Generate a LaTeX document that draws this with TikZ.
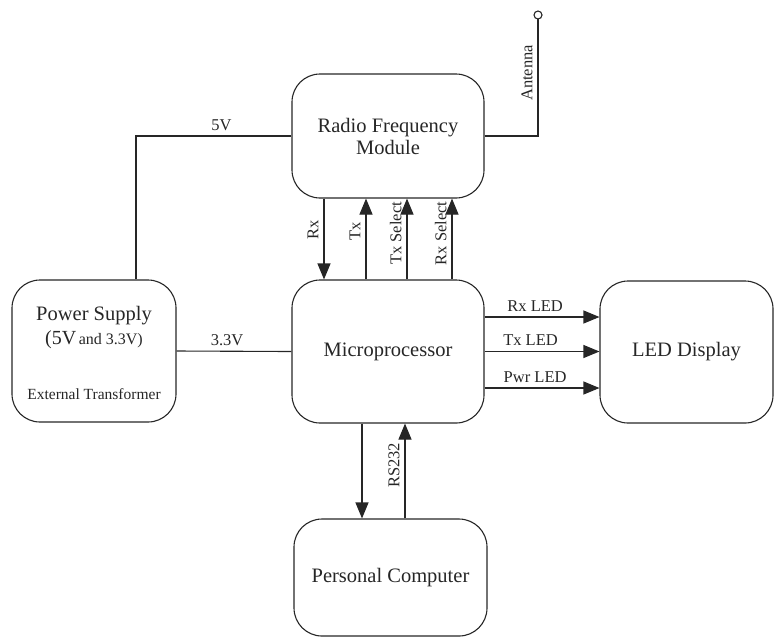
\documentclass[tikz,border=0pt]{standalone}
\usepackage{fontspec}
\setmainfont{Liberation Serif}
\usetikzlibrary{arrows.meta,calc}

\begin{document}
\begin{tikzpicture}[x=1pt,y=-1pt,line width=1.1pt,color=black!85,
  block/.style={draw,rounded corners=28pt,align=center,inner sep=0pt,
    font=\fontsize{20.5}{22}\selectfont},
  lbl/.style={inner sep=5pt,font=\fontsize{16.5}{18}\selectfont},
  >={Triangle[length=16pt,width=13pt]}]
\useasboundingbox (0,0) rectangle (775,638);

\node[block,minimum width=192pt,minimum height=124pt] (rf) at (388,136) {Radio Frequency\\Module};
\node[block,minimum width=192pt,minimum height=143pt] (mp) at (388,351.5) {Microprocessor};
\node[block,minimum width=164pt,minimum height=142pt] (ps) at (94,351) {};
\node[block,minimum width=173pt,minimum height=142pt] (led) at (686.5,352) {LED Display};
\node[block,minimum width=193pt,minimum height=117pt] (pc) at (390.5,577.5) {Personal Computer};

% power supply text
\node[anchor=base,font=\fontsize{20.5}{22}\selectfont] (pstitle) at (94,320) {Power Supply};
\node[anchor=base] (psvolt) at (94,344) {{\fontsize{20}{22}\selectfont(5V} {\fontsize{16}{18}\selectfont and 3.3V)}};
\node[anchor=base,font=\fontsize{15.5}{18}\selectfont] (psnote) at (94,399) {External Transformer};

% supply lines
\draw ([xshift=42pt]ps.north) |- (rf.west) node[lbl,pos=0.775,above] {5V};
\draw (ps.east) -- (mp.west) node[lbl,pos=0.44,above] {3.3V};

% antenna
\coordinate (ant) at (538,15);
\draw (rf.east) -| ([yshift=-4pt]ant) node[lbl,pos=0.77,rotate=90,anchor=south] {Antenna};
\draw[fill=white] (ant) circle (4pt);

% radio <-> micro
\draw[->] ([xshift=-64pt]rf.south) -- ([xshift=-64pt]rf.south |- mp.north)
  node[lbl,pos=0.39,rotate=90,anchor=south] {Rx};
\draw[->] ([xshift=-22pt]mp.north) -- ([xshift=-22pt]mp.north |- rf.south)
  node[lbl,pos=0.6,rotate=90,anchor=south] {Tx};
\draw[->] ([xshift=19pt]mp.north) -- ([xshift=19pt]mp.north |- rf.south)
  node[lbl,pos=0.57,rotate=90,anchor=south] {Tx Select};
\draw[->] ([xshift=64pt]mp.north) -- ([xshift=64pt]mp.north |- rf.south)
  node[lbl,pos=0.57,rotate=90,anchor=south] {Rx Select};

% micro -> leds
\draw[->] ([yshift=34.5pt]mp.east) -- ([yshift=34.5pt]mp.east -| led.west)
  node[lbl,pos=0.44,above] {Rx LED};
\draw[->] (mp.east) -- (mp.east -| led.west)
  node[lbl,pos=0.4,above] {Tx LED};
\draw[->] ([yshift=-36.5pt]mp.east) -- ([yshift=-36.5pt]mp.east -| led.west)
  node[lbl,pos=0.44,above] {Pwr LED};

% micro <-> pc
\draw[->] ([xshift=-26pt]mp.south) -- ([xshift=-26pt]mp.south |- pc.north);
\draw[->] ([xshift=17pt]mp.south |- pc.north) -- ([xshift=17pt]mp.south)
  node[lbl,pos=0.56,rotate=90,anchor=south] {RS232};
\end{tikzpicture}
\end{document}
